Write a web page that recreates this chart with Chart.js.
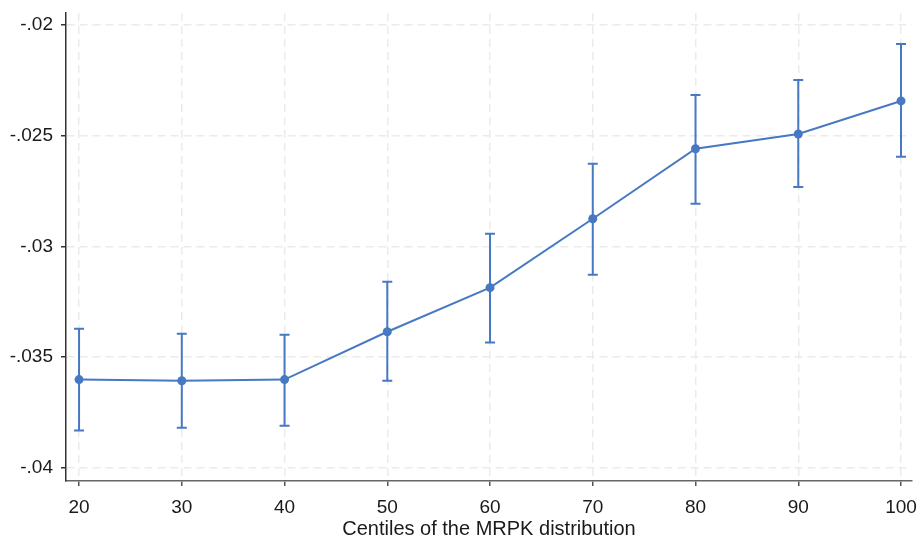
<!DOCTYPE html>
<html>
<head>
<meta charset="utf-8">
<script src="https://cdn.jsdelivr.net/npm/chart.js"></script>
<style>
  body { margin: 0; background: #fff; }
  #wrap { width: 918px; height: 537px; }
</style>
</head>
<body>
<div id="wrap"><canvas id="myChart" width="918" height="537"></canvas></div>
<script>
// centiles on the x axis and the estimates with their confidence bounds
const centiles = [20, 30, 40, 50, 60, 70, 80, 90, 100];
const estimate = [-0.03601, -0.03606, -0.03601, -0.03385, -0.03186, -0.02875, -0.02559, -0.02492, -0.02343];
const upper    = [-0.03371, -0.03394, -0.03398, -0.03159, -0.02943, -0.02627, -0.02316, -0.02248, -0.02086];
const lower    = [-0.03831, -0.03818, -0.03809, -0.03606, -0.03434, -0.03128, -0.02807, -0.02731, -0.02595];
const yTicks   = [-0.04, -0.035, -0.03, -0.025, -0.02];

const blue = "#4779c2";
const tickFont = { family: "'Liberation Sans', Arial, sans-serif", size: 19 };
const titleFont = { family: "'Liberation Sans', Arial, sans-serif", size: 20 };

// stata-style labels: -.025 instead of -0.025
function stataLabel(v) {
    return String(Number(v.toFixed(4))).replace("0.", ".");
}

const errorBars = {
    id: "errorBars",
    beforeDatasetsDraw(chart) {
        const ctx = chart.ctx;
        const x = chart.scales.x;
        const y = chart.scales.y;
        ctx.save();
        ctx.strokeStyle = blue;
        ctx.lineWidth = 2;
        centiles.forEach(function(c, i) {
            const px = x.getPixelForValue(c);
            const top = y.getPixelForValue(upper[i]);
            const bot = y.getPixelForValue(lower[i]);
            ctx.beginPath();
            ctx.moveTo(px, top);
            ctx.lineTo(px, bot);
            ctx.moveTo(px - 5, top);
            ctx.lineTo(px + 5, top);
            ctx.moveTo(px - 5, bot);
            ctx.lineTo(px + 5, bot);
            ctx.stroke();
        });
        ctx.restore();
    }
};

const ctx = document.getElementById("myChart").getContext("2d");
const myChart = new Chart(ctx, {
    type: "line",
    data: {
        datasets: [
            {
                data: centiles.map((c, i) => ({ x: c, y: estimate[i] })),
                borderColor: blue,
                backgroundColor: blue,
                borderWidth: 2,
                pointRadius: 4.5,
                pointBackgroundColor: blue,
                pointBorderWidth: 0,
                tension: 0
            }
        ]
    },
    options: {
        responsive: false,
        animation: false,
        layout: { padding: { top: 13, right: 6, left: 0, bottom: 0 } },
        plugins: {
            legend: { display: false },
            tooltip: { enabled: false }
        },
        scales: {
            x: {
                type: "linear",
                min: 18.73,
                max: 101.07,
                afterBuildTicks: function(scale) {
                    scale.ticks = centiles.map(v => ({ value: v }));
                },
                afterFit: function(scale) {
                    scale.height = 56;
                    scale.paddingLeft = 0;
                    scale.paddingRight = 0;
                },
                ticks: {
                    color: "#1a1a1a",
                    font: tickFont,
                    padding: 10,
                    maxRotation: 0,
                    callback: v => String(v)
                },
                grid: {
                    color: "#ebebeb",
                    lineWidth: 1.5,
                    tickColor: "#555",
                    tickLength: 5,
                    tickWidth: 1.5,
                    tickBorderDash: []
                },
                border: { color: "#666", width: 1.5, dash: [8, 5] },
                title: {
                    display: true,
                    text: "Centiles of the MRPK distribution",
                    color: "#1a1a1a",
                    font: titleFont,
                    padding: { top: 0, bottom: -4 }
                }
            },
            y: {
                min: -0.040587,
                max: -0.01946,
                afterBuildTicks: function(scale) {
                    scale.ticks = yTicks.map(v => ({ value: v }));
                },
                afterFit: function(scale) {
                    scale.width = 66;
                    scale.paddingTop = 0;
                    scale.paddingBottom = 0;
                },
                ticks: {
                    color: "#1a1a1a",
                    font: tickFont,
                    padding: 8,
                    callback: v => stataLabel(v)
                },
                grid: {
                    color: "#ebebeb",
                    lineWidth: 1.5,
                    tickColor: "#333",
                    tickLength: 5,
                    tickWidth: 1.5,
                    tickBorderDash: []
                },
                border: { color: "#333", width: 1.5, dash: [8, 5] }
            }
        }
    },
    plugins: [errorBars]
});
</script>
</body>
</html>
